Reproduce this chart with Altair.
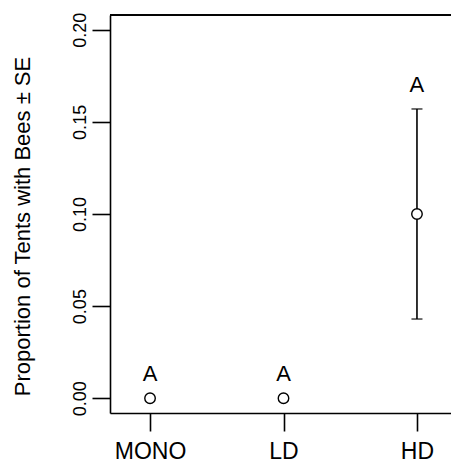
import altair as alt
import pandas as pd

# Treatment groups, mean proportion of tents with bees, and standard errors
groups = ["MONO", "LD", "HD"]
means = [0.0, 0.0, 0.10]
ses = [0.0, 0.0, 0.057]
letters = ["A", "A", "A"]

df = pd.DataFrame({
    "group": groups,
    "pos": list(range(1, len(groups) + 1)),
    "mean": means,
    "se": ses,
    "letter": letters,
})
df["lo"] = df["mean"] - df["se"]
df["hi"] = df["mean"] + df["se"]

FONT = "Liberation Sans"
W, H = 341, 398
xdom = [0.7, 3.255]
ydom = [-0.008, 0.208]
xscale = alt.Scale(domain=xdom, nice=False, zero=False)
yscale = alt.Scale(domain=ydom, nice=False, zero=False)

label_expr = " : ".join(
    f"datum.value == {i + 1} ? '{g}'" for i, g in enumerate(groups)
) + " : ''"

x_axis = alt.Axis(
    values=[1, 2, 3], labelExpr=label_expr, title=None, grid=False,
    tickSize=18, tickWidth=1.6, tickColor="black",
    domainColor="black", domainWidth=1.6,
    labelFont=FONT, labelFontSize=23, labelColor="black",
    labelPadding=9, labelBaseline="top",
)
y_axis = alt.Axis(
    values=[0, 0.05, 0.10, 0.15, 0.20], format=".2f", grid=False,
    title="Proportion of Tents with Bees ± SE",
    titleFont=FONT, titleFontSize=22, titleFontWeight="normal",
    titleColor="black", titleX=-81, titleY=211, titleAngle=270,
    titleBaseline="alphabetic", titleAlign="center",
    tickSize=18, tickWidth=1.6, tickColor="black",
    domainColor="black", domainWidth=1.6,
    labelFont=FONT, labelFontSize=18, labelColor="black",
    labelAngle=270, labelAlign="center", labelBaseline="alphabetic",
    labelPadding=7,
)

X = alt.X("pos:Q", scale=xscale, axis=x_axis)

base = alt.Chart(df)

# error bars (mean ± SE) with end caps
bars = base.mark_rule(color="black", strokeWidth=1.6).encode(
    x=X, y=alt.Y("lo:Q", scale=yscale, axis=y_axis), y2="hi:Q"
).transform_filter("datum.se > 0")

caps_hi = base.mark_tick(color="black", thickness=1.6, size=11, orient="horizontal").encode(
    x=X, y=alt.Y("hi:Q", scale=yscale, axis=y_axis)
).transform_filter("datum.se > 0")
caps_lo = base.mark_tick(color="black", thickness=1.6, size=11, orient="horizontal").encode(
    x=X, y=alt.Y("lo:Q", scale=yscale, axis=y_axis)
).transform_filter("datum.se > 0")

points = base.mark_point(
    shape="circle", size=110, filled=True, fill="white",
    stroke="black", strokeWidth=1.4, opacity=1,
).encode(x=X, y=alt.Y("mean:Q", scale=yscale, axis=y_axis))

# significance letters above each upper bound
text = base.mark_text(
    font=FONT, fontSize=22, color="black", baseline="alphabetic", dy=-17
).encode(
    x=X,
    y=alt.Y("hi:Q", scale=yscale, axis=y_axis),
    text="letter:N",
)

# top edge of the plot frame
top_edge = base.mark_rule(color="black", strokeWidth=1.6).encode(
    x=alt.value(0), x2=alt.value(W), y=alt.value(0)
)

chart = (
    alt.layer(top_edge, bars, caps_hi, caps_lo, points, text)
    .properties(
        width=W, height=H,
        autosize=alt.AutoSizeParams(type="none"),
        padding={"left": 110, "top": 15, "right": 0, "bottom": 51},
    )
    .configure_view(stroke=None)
    .configure(background="white")
)

chart.save("out.html", embed_options={"renderer": "svg", "actions": False})
